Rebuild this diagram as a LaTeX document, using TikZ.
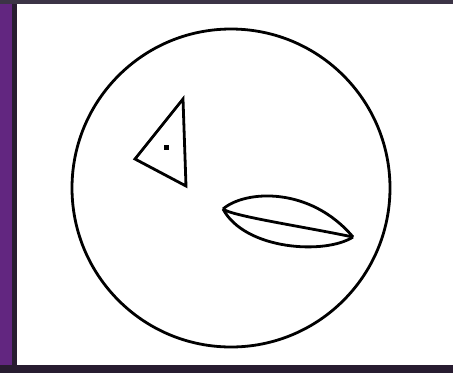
\documentclass[tikz,border=0pt]{standalone}
\definecolor{framepurple}{RGB}{98,38,128}
\definecolor{framedark}{RGB}{40,28,48}
\definecolor{topdark}{RGB}{60,52,70}
\tikzset{
  shape line/.style={draw=black, line width=2.8pt, line join=round},
}
\begin{document}
\begin{tikzpicture}[x=1pt,y=-1pt]
  \useasboundingbox (0,0) rectangle (453,373);
  \fill[white] (0,0) rectangle (453,373);
  \fill[framepurple] (0,0) rectangle (12,373);
  \fill[framedark] (12,0) rectangle (17,373);
  \fill[topdark] (0,0) rectangle (453,4);
  \fill[framedark] (0,365) rectangle (453,373);
  % circle
  \draw[shape line] (231,188) circle[radius=159];
  % triangle
  \coordinate (ta) at (183,99);
  \coordinate (tb) at (135,159);
  \coordinate (tc) at (186,186);
  \draw[shape line, line join=miter] (ta) -- (tb) -- (tc) -- cycle;
  \fill[black] (163.5,144.5) rectangle (168.5,149.5);
  % lens
  \coordinate (ll) at (223,209);
  \coordinate (lr) at (353,237);
  \draw[shape line] (ll) .. controls (245,190) and (310,186) .. (lr);
  \draw[shape line] (ll) .. controls (245,250) and (325,255) .. (lr);
  \draw[shape line] (ll) .. controls (232,216) and (300,226) .. (lr);
\end{tikzpicture}
\end{document}
